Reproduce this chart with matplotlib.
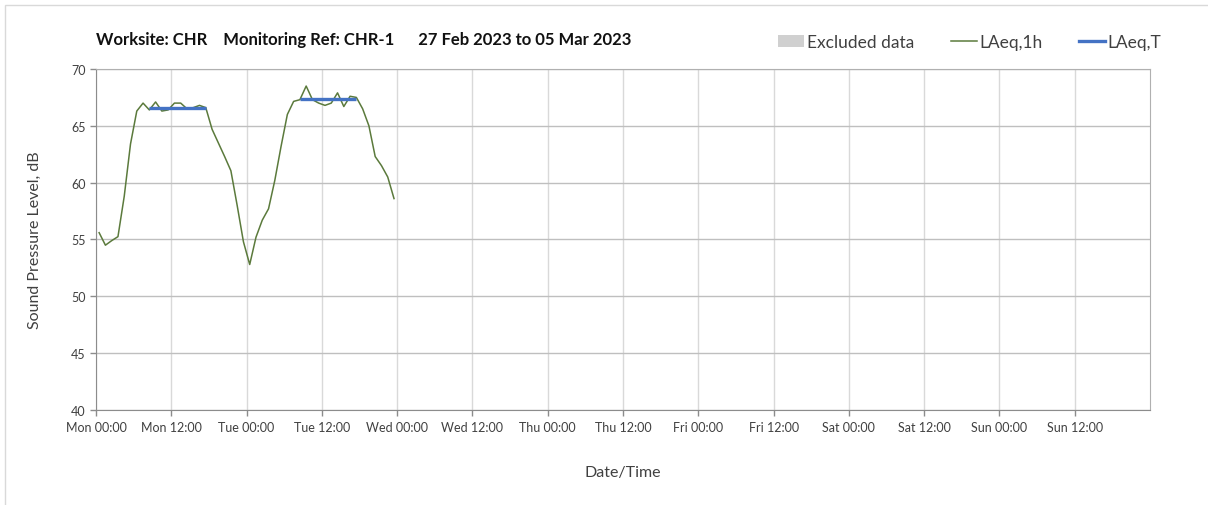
import numpy as np
import pandas as pd
import matplotlib
matplotlib.use("Agg")
import matplotlib.pyplot as plt
from matplotlib.lines import Line2D
from matplotlib.patches import Patch, Rectangle

plt.rcParams['font.family'] = ['Lato', 'DejaVu Sans']

# ---- data ----
start = pd.Timestamp('2023-02-27 00:30')
laeq_1h = [55.6, 54.5, 54.9, 55.25, 58.8, 63.4, 66.3, 67.0, 66.4, 67.1,
           66.3, 66.4, 67.0, 67.0, 66.5, 66.6, 66.8, 66.6, 64.7, 63.5,
           62.3, 61.05, 58.0, 54.8, 52.8, 55.2, 56.7, 57.7, 60.2, 63.2,
           66.0, 67.15, 67.3, 68.5, 67.3, 67.0, 66.8, 67.0, 67.9, 66.7,
           67.6, 67.5, 66.5, 65.0, 62.3, 61.5, 60.5, 58.6]
times_1h = pd.date_range(start, periods=len(laeq_1h), freq='h')

laeqT_periods = [('2023-02-27 08:30', '2023-02-27 17:30'),
                 ('2023-02-28 08:30', '2023-02-28 17:30')]
laeqT_values = [66.6, 67.4]

tick_labels = ['Mon 00:00', 'Mon 12:00', 'Tue 00:00', 'Tue 12:00', 'Wed 00:00',
               'Wed 12:00', 'Thu 00:00', 'Thu 12:00', 'Fri 00:00', 'Fri 12:00',
               'Sat 00:00', 'Sat 12:00', 'Sun 00:00', 'Sun 12:00']
x_start = pd.Timestamp('2023-02-27 00:00')
x_end = pd.Timestamp('2023-03-06 00:00')

title = 'Worksite: CHR    Monitoring Ref: CHR-1      27 Feb 2023 to 05 Mar 2023'

green = '#5b7a3c'
blue = '#4472c4'

fig = plt.figure(figsize=(12.08, 5.06), dpi=100)
ax = fig.add_axes([96/1208, 1-411/506, (1150-96)/1208, (411-70)/506])

ax.plot(times_1h, laeq_1h, color=green, lw=1.1)
for (a, b), v in zip(laeqT_periods, laeqT_values):
    ax.plot([pd.Timestamp(a), pd.Timestamp(b)], [v, v], color=blue, lw=2.4,
            solid_capstyle='butt')

ax.set_xlim(x_start, x_end)
ax.set_ylim(40, 70)
ticks = pd.date_range(x_start, periods=len(tick_labels), freq='12h')
ax.set_xticks(ticks)
ax.set_xticklabels(tick_labels)
ax.set_yticks(np.arange(40, 71, 5))

ax.grid(axis='y', color='#bfbfbf', lw=1)
ax.grid(axis='x', color='#d9d9d9', lw=1)
ax.set_axisbelow(True)
for side in ['left', 'bottom']:
    ax.spines[side].set_color('#8c8c8c')
for side in ['top', 'right']:
    ax.spines[side].set_color('#b0b0b0')
ax.tick_params(axis='both', colors='#8c8c8c', labelcolor='#404040',
               labelsize=9, length=4, width=1)
ax.tick_params(axis='x', pad=4)

ax.set_ylabel('Sound Pressure Level, dB', fontsize=11.5, color='#404040', labelpad=21)
ax.set_xlabel('Date/Time', fontsize=11.5, color='#404040', labelpad=23)

fig.text(96/1208, 1-40/506, title, fontsize=12, fontweight='bold',
         color='#111111', va='center', ha='left')

handles = [Patch(facecolor='#d0d0d0', edgecolor='none', label='Excluded data'),
           Line2D([], [], color=green, lw=1.1, label='LAeq,1h'),
           Line2D([], [], color=blue, lw=2.4, label='LAeq,T')]
fig.legend(handles=handles, loc='center', bbox_to_anchor=(970/1208, 1-43/506),
           ncol=3, frameon=False, fontsize=12.5, handlelength=1.5,
           handletextpad=0.15, columnspacing=2.1, labelcolor='#404040')

fig.patches.append(Rectangle((5/1208, -0.1), 1.2, 1-6/506+0.1, transform=fig.transFigure,
                             fill=False, edgecolor='#d9d9d9', lw=1))

fig.savefig('out.png', dpi=100, facecolor='white')
